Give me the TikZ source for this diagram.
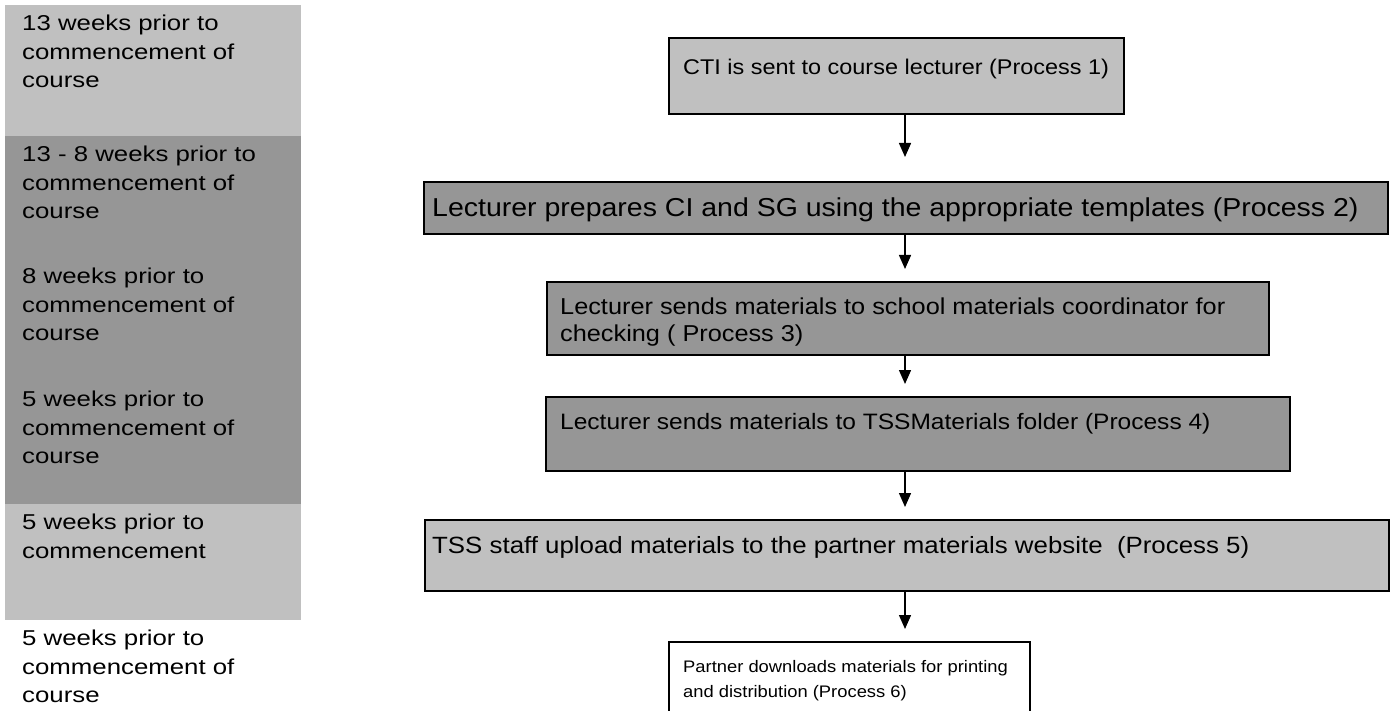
\documentclass[tikz,border=0pt]{standalone}
\usepackage{fontspec}
\setmainfont{Liberation Sans}
\newfontfamily\wideface[FakeStretch=1.2]{Liberation Sans}
\newfontfamily\boxface[FakeStretch=1.1]{Liberation Sans}
\usetikzlibrary{arrows.meta,positioning}

\definecolor{palegrey}{HTML}{C0C0C0}
\definecolor{midgrey}{HTML}{969696}

\tikzset{
  band/.style={anchor=north west, inner sep=0pt, minimum width=296pt},
  when/.style={anchor=north west, inner sep=0pt, align=left,
    font=\wideface\fontsize{21.5}{28.5}\selectfont},
  stage/.style={draw=black, line width=1.6pt, anchor=north west, inner sep=0pt},
  says/.style={anchor=north west, inner sep=0pt, align=left},
  flow/.style={-{Triangle[width=12pt,length=14pt]}, line width=1.4pt, shorten >=12pt}
}

\begin{document}
\begin{tikzpicture}[x=1pt, y=-1pt]
        \useasboundingbox (0,0) rectangle (1395,711);

        % time line on the left
        \node[band, fill=palegrey, minimum height=131pt] (w1) at (5,5) {};
        \node[band, fill=midgrey, minimum height=122pt] (w2) at (5,136) {};
        \node[band, fill=midgrey, minimum height=123pt] (w3) at (5,258) {};
        \node[band, fill=midgrey, minimum height=123pt] (w4) at (5,381) {};
        \node[band, fill=palegrey, minimum height=116pt] (w5) at (5,504) {};
        \coordinate (w6) at (5,620);

        \node[when] (t1) at ([xshift=17pt, yshift=-10pt]w1.north west) {13 weeks prior to\\commencement of\\course};
        \node[when] (t2) at ([xshift=17pt, yshift=-10pt]w2.north west) {13 - 8 weeks prior to\\commencement of\\course};
        \node[when] (t3) at ([xshift=17pt, yshift=-10pt]w3.north west) {8 weeks prior to\\commencement of\\course};
        \node[when] (t4) at ([xshift=17pt, yshift=-10pt]w4.north west) {5 weeks prior to\\commencement of\\course};
        \node[when] (t5) at ([xshift=17pt, yshift=-10pt]w5.north west) {5 weeks prior to\\commencement};
        \node[when] (t6) at ([xshift=17pt, yshift=-10pt]w6) {5 weeks prior to\\commencement of\\course};

        % process boxes
        \node[stage, fill=palegrey, minimum width=455pt, minimum height=76pt] (s1) at (668,37) {};
        \node[stage, fill=midgrey, minimum width=964pt, minimum height=52pt] (s2) at (423,181) {};
        \node[stage, fill=midgrey, minimum width=722pt, minimum height=73pt] (s3) at (546,281) {};
        \node[stage, fill=midgrey, minimum width=744pt, minimum height=74pt] (s4) at (545,396) {};
        \node[stage, fill=palegrey, minimum width=964pt, minimum height=71pt] (s5) at (424,519) {};
        \node[stage, fill=white, minimum width=361pt, minimum height=80pt] (s6) at (668,641) {};

        \node[says, font=\boxface\fontsize{21.3}{26}\selectfont] (p1) at ([xshift=15pt, yshift=-22pt]s1.north west)
          {CTI is sent to course lecturer (Process 1)};
        \node[says, font=\boxface\fontsize{25.9}{28}\selectfont] (p2) at ([xshift=9pt, yshift=-17pt]s2.north west)
          {Lecturer prepares CI and SG using the appropriate templates (Process 2)};
        \begin{scope}
          \clip (s3.north west) rectangle ([yshift=10pt]s3.south east);
          \node[says, font=\boxface\fontsize{23}{27}\selectfont] (p3) at ([xshift=14pt, yshift=-17pt]s3.north west)
            {Lecturer sends materials to school materials coordinator for\\checking ( Process 3)};
        \end{scope}
        \node[says, font=\boxface\fontsize{22.3}{26}\selectfont] (p4) at ([xshift=15pt, yshift=-17pt]s4.north west)
          {Lecturer sends materials to TSSMaterials folder (Process 4)};
        \node[says, font=\boxface\fontsize{23.5}{26}\selectfont] (p5) at ([xshift=8pt, yshift=-17.5pt]s5.north west)
          {TSS staff upload materials to the partner materials website\ \ (Process 5)};
        \node[says, font=\boxface\fontsize{16.7}{25}\selectfont] (p6) at ([xshift=15pt, yshift=-19pt]s6.north west)
          {Partner downloads materials for printing\\and distribution (Process 6)};

        % arrows
        \coordinate (axis) at (905,0);
        \draw[flow, shorten >=24pt] (s1.south -| axis) -- (s2.north -| axis);
        \draw[flow] (s2.south -| axis) -- (s3.north -| axis);
        \draw[flow] (s3.south -| axis) -- (s4.north -| axis);
        \draw[flow] (s4.south -| axis) -- (s5.north -| axis);
        \draw[flow] (s5.south -| axis) -- (s6.north -| axis);
\end{tikzpicture}
\end{document}
